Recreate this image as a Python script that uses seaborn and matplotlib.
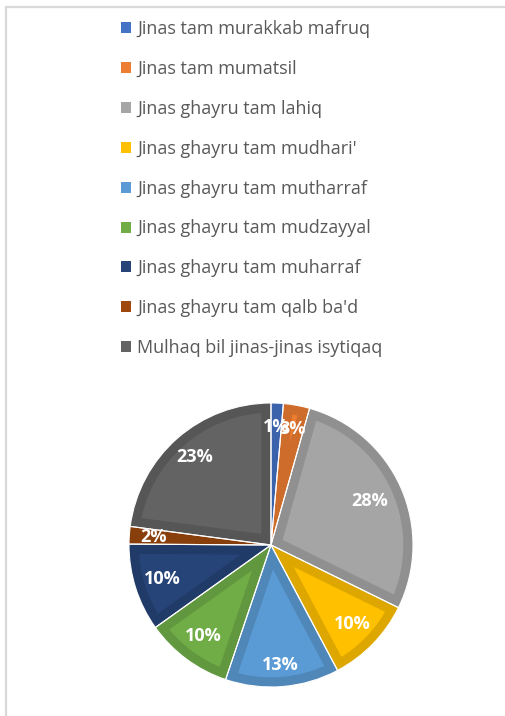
import numpy as np
import matplotlib
matplotlib.use('Agg')
import matplotlib.pyplot as plt
import matplotlib.colors as mcolors
from matplotlib.lines import Line2D
from matplotlib.patches import Patch
import seaborn as sns

sns.set_theme(style="white")
plt.rcParams['font.family'] = ['Open Sans', 'DejaVu Sans']

# Data
categories = ["Jinas tam murakkab mafruq", "Jinas tam mumatsil", "Jinas ghayru tam lahiq",
              "Jinas ghayru tam mudhari'", "Jinas ghayru tam mutharraf", "Jinas ghayru tam mudzayyal",
              "Jinas ghayru tam muharraf", "Jinas ghayru tam qalb ba'd", "Mulhaq bil jinas-jinas isytiqaq"]
shares = [1.4, 3, 28, 10, 13, 10, 10, 2, 23]
pct_labels = ["1%", "3%", "28%", "10%", "13%", "10%", "10%", "2%", "23%"]
colors = ["#4472C4", "#ED7D31", "#A5A5A5", "#FFC000", "#5B9BD5",
          "#70AD47", "#264478", "#9E480E", "#636363"]

def darker(c, f=0.87):
    r, g, b = mcolors.to_rgb(c)
    return (r * f, g * f, b * f)

fig = plt.figure(figsize=(5.06, 7.16), dpi=100)
fig.patch.set_facecolor('white')

# frame lines like the office chart area
fig.add_artist(Line2D([6 / 506, 6 / 506], [0, 1 - 7 / 716], color='#d9d9d9', lw=1.6))
fig.add_artist(Line2D([6 / 506, 1], [1 - 7 / 716, 1 - 7 / 716], color='#d9d9d9', lw=1.6))

# pie centre ~ (271, 545) px, radius ~142 px
side = 2 * 142 * 1.02
ax = fig.add_axes([(271 - side / 2) / 506, (716 - 545 - side / 2) / 716, side / 506, side / 716])
wedges, _ = ax.pie(shares, colors=colors, startangle=90, counterclock=False, radius=1,
                   wedgeprops=dict(linewidth=0))
# inner darker rim on each wedge (stroke clipped to the wedge itself)
for w, c in zip(wedges, colors):
    w.set_edgecolor(darker(c))
    w.set_linewidth(14)
    w.set_clip_path(w)
    w.set_clip_on(True)
# thin white separators
ax.pie(shares, colors=['none'] * len(shares), startangle=90, counterclock=False, radius=1,
       wedgeprops=dict(linewidth=0.8, edgecolor='white', fill=False))

# labels
theta = 90 - (np.cumsum(shares) - np.array(shares) / 2) / sum(shares) * 360
dist = [0.83, 0.83, 0.76, 0.80, 0.85, 0.80, 0.80, 0.83, 0.82]
for t, d, lab in zip(theta, dist, pct_labels):
    x, y = d * np.cos(np.radians(t)), d * np.sin(np.radians(t))
    ax.text(x, y, lab, ha='center', va='center', color='white', fontsize=13, fontweight='bold')
ax.set_xlim(-1.02, 1.02)
ax.set_ylim(-1.02, 1.02)
ax.set_aspect('equal')
ax.axis('off')

handles = [Patch(facecolor=c, edgecolor='none') for c in colors]
leg = fig.legend(handles, categories, loc='upper left', bbox_to_anchor=(114 / 506, 1 - 13 / 716),
                 frameon=False, fontsize=13, labelspacing=1.21, handlelength=0.55, handleheight=0.55,
                 handletextpad=0.35, borderaxespad=0)
for t in leg.get_texts():
    t.set_color('#595959')

fig.savefig('out.png', dpi=100)
